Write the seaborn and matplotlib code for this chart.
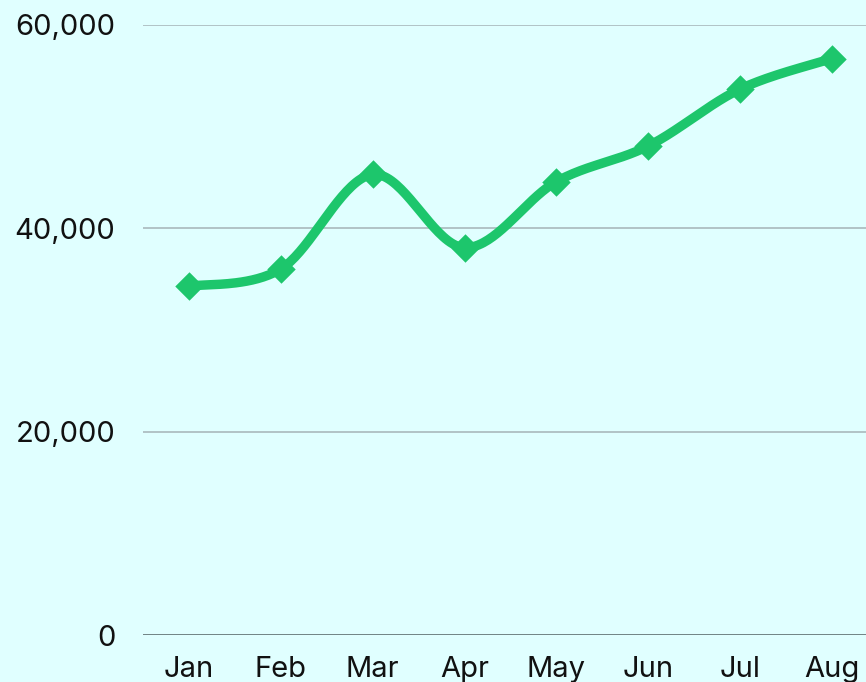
import numpy as np
import pandas as pd
import matplotlib
matplotlib.use("Agg")
import matplotlib.pyplot as plt
import seaborn as sns
from matplotlib.ticker import FuncFormatter

months = ["Jan", "Feb", "Mar", "Apr", "May", "Jun", "Jul", "Aug"]
values = [34300, 36000, 45300, 38100, 44600, 48100, 53700, 56700]
y_ticks = [0, 20000, 40000, 60000]

BG = "#E0FFFF"
GREEN = "#1DC66C"

sns.set_theme(style="white")
plt.rcParams["font.family"] = ["Inter", "DejaVu Sans"]

fig = plt.figure(figsize=(8.66, 6.82), dpi=100)
fig.patch.set_facecolor(BG)
W, H = 866, 682
left, right = 143 / W, 878 / W
bottom, top = (H - 635) / H, (H - 25) / H
ax = fig.add_axes([left, bottom, right - left, top - bottom])
ax.set_facecolor(BG)

df = pd.DataFrame({"month": months, "value": values, "x": np.arange(len(months))})

# Catmull-Rom smoothing of the line through the data points
xs = df["x"].to_numpy(float)
ys = df["value"].to_numpy(float)
px = np.concatenate([[xs[0]], xs, [xs[-1]]])
py = np.concatenate([[ys[0]], ys, [ys[-1]]])
cx, cy = [], []
t = np.linspace(0, 1, 40)
for i in range(1, len(px) - 2):
    for arr, out in ((px, cx), (py, cy)):
        p0, p1, p2, p3 = arr[i - 1], arr[i], arr[i + 1], arr[i + 2]
        m1 = (p2 - p0) / 2
        m2 = (p3 - p1) / 2
        h00 = 2 * t**3 - 3 * t**2 + 1
        h10 = t**3 - 2 * t**2 + t
        h01 = -2 * t**3 + 3 * t**2
        h11 = t**3 - t**2
        out.extend(h00 * p1 + h10 * m1 + h01 * p2 + h11 * m2)
smooth = pd.DataFrame({"x": cx, "y": cy})

for yt in y_ticks[1:]:
    ax.axhline(yt, color="#A9B9BC", lw=1.2, zorder=1)
ax.axhline(0, color="#5E6E70", lw=1.2, zorder=1)

sns.lineplot(data=smooth, x="x", y="y", ax=ax, color=GREEN, lw=6.8,
             sort=False, zorder=3, clip_on=False)
sns.scatterplot(data=df, x="x", y="value", ax=ax, color=GREEN, marker="D",
                s=210, linewidth=0, zorder=4, clip_on=False)

ax.set_xlim(-0.5, len(months) - 0.5)
ax.set_ylim(0, 60000)
ax.set_xticks(range(len(months)))
ax.set_xticklabels(months)
ax.set_yticks(y_ticks)
ax.yaxis.set_major_formatter(FuncFormatter(lambda v, p: f"{int(v):,}"))
ax.tick_params(axis="y", length=0, pad=20, labelsize=21, labelcolor="#111111")
ax.tick_params(axis="x", length=0, pad=15, labelsize=21, labelcolor="#111111")
ax.set_xlabel("")
ax.set_ylabel("")
for s in ax.spines.values():
    s.set_visible(False)

fig.savefig("out.png", dpi=100, facecolor=BG)
